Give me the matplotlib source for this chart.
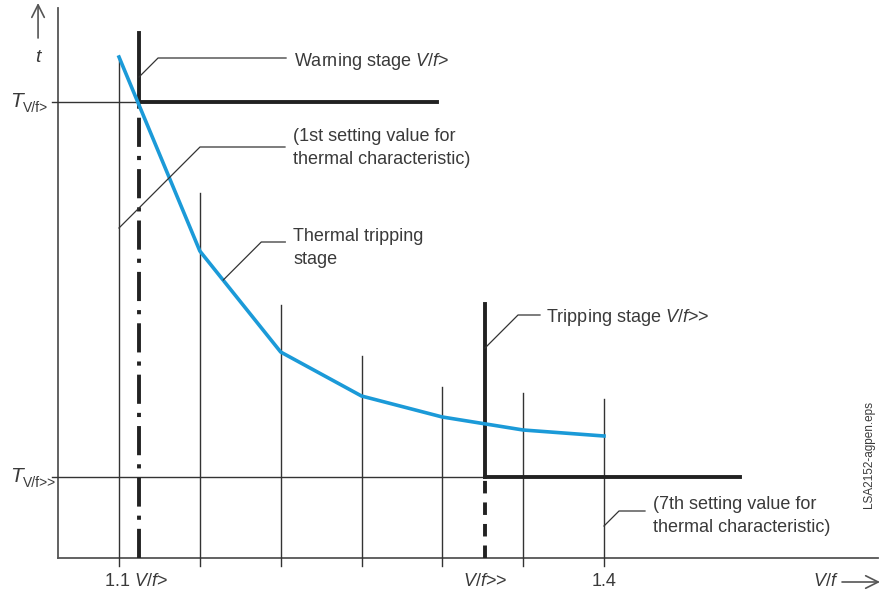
import matplotlib.pyplot as plt

plt.rcParams['font.family'] = ['Liberation Sans', 'DejaVu Sans']
plt.rcParams['mathtext.fontset'] = 'custom'
plt.rcParams['mathtext.rm'] = 'Liberation Sans'
plt.rcParams['mathtext.it'] = 'Liberation Sans:italic'
plt.rcParams['lines.scale_dashes'] = False

# setting values of the thermal characteristic (V/f, t)
vf_set = [1.10, 1.15, 1.20, 1.25, 1.30, 1.35, 1.40]
t_curve = [5.01, 3.07, 2.06, 1.62, 1.41, 1.28, 1.22]
t_marker_top = [5.01, 3.65, 2.53, 2.02, 1.71, 1.65, 1.59]

# stages
vf_warn, t_warn, t_warn_top, vf_warn_end = 1.1124, 4.56, 5.25, 1.297
vf_trip, t_trip, t_trip_top, vf_trip_end = 1.3264, 0.81, 2.54, 1.484

# axis geometry
vf_axis, t_axis_top, vf_axis_end = 1.0623, 5.50, 1.5695

W, H = 889, 596
xlim = (1.02639, 1.57629)
ylim = (-0.38, 5.58)
sx = (xlim[1] - xlim[0]) / W   # data per pixel
sy = (ylim[1] - ylim[0]) / H

fig = plt.figure(figsize=(W / 100, H / 100), dpi=100)
ax = fig.add_axes([0, 0, 1, 1])
ax.set_xlim(*xlim)
ax.set_ylim(*ylim)
ax.axis('off')

txt = '#3a3a3a'
axc = '#555555'
thin = '#333333'
thick = '#222222'
blue = '#1b9ad8'

# axes
ax.plot([vf_axis, vf_axis], [0, t_axis_top], color=axc, lw=1.3)
ax.plot([vf_axis, vf_axis_end], [0, 0], color=axc, lw=1.3)

# reference levels
ax.plot([vf_axis - 6 * sx, vf_warn], [t_warn, t_warn], color=thin, lw=1.0)
ax.plot([vf_axis - 6 * sx, vf_trip], [t_trip, t_trip], color=thin, lw=1.0)

# setting value markers
for v, top in zip(vf_set, t_marker_top):
    ax.plot([v, v], [-8 * sy, top], color=thin, lw=1.0)

# warning stage
ax.plot([vf_warn, vf_warn], [t_warn, t_warn_top], color=thick, lw=2.8)
ax.plot([vf_warn, vf_warn_end], [t_warn, t_warn], color=thick, lw=2.8)
ln, = ax.plot([vf_warn, vf_warn], [0, t_warn], color=thick, lw=2.8)
ln.set_dashes((21, 6.5, 3, 6.5))

# tripping stage
ax.plot([vf_trip, vf_trip], [t_trip, t_trip_top], color=thick, lw=2.8)
ax.plot([vf_trip, vf_trip_end], [t_trip, t_trip], color=thick, lw=2.8)
ln, = ax.plot([vf_trip, vf_trip], [0, t_trip], color=thick, lw=2.8)
ln.set_dashes((9, 6.5))

# thermal characteristic
ax.plot(vf_set, t_curve, color=blue, lw=2.6, solid_joinstyle='round')


def leader(x, y, d, run):
    x1 = x + d * sx
    y1 = y + d * sy
    ax.plot([x, x1, x1 + run * sx], [y, y1, y1], color=thin, lw=0.9)
    return x1 + run * sx, y1


fs = 13
ls = 1.42
x0, y0 = leader(vf_warn, t_warn + 25 * sy, 19, 128)
ax.text(x0 + 8 * sx, y0 - 3 * sy, 'Warning stage $\\mathit{V/f}$>', color=txt,
        fontsize=fs, va='center')

x0, y0 = leader(vf_set[0], t_marker_top[0] - 171 * sy, 81, 85)
ax.text(x0 + 8 * sx, y0 - 1 * sy, '(1st setting value for\nthermal characteristic)',
        color=txt, fontsize=fs, va='center', linespacing=ls)

x0, y0 = leader(1.1645, 2.78, 38, 24)
ax.text(x0 + 8 * sx, y0 - 6 * sy, 'Thermal tripping\nstage', color=txt,
        fontsize=fs, va='center', linespacing=ls)

x0, y0 = leader(vf_trip, 2.10, 33, 22)
ax.text(x0 + 6 * sx, y0 - 2 * sy, 'Tripping stage $\\mathit{V/f}$>>', color=txt,
        fontsize=fs, va='center')

x0, y0 = leader(vf_set[-1], 0.32, 15, 26)
ax.text(x0 + 8 * sx, y0 - 5 * sy, '(7th setting value for\nthermal characteristic)',
        color=txt, fontsize=fs, va='center', linespacing=ls)

# y labels
for tv, sub in [(t_warn, 'V/f>'), (t_trip, 'V/f>>')]:
    ax.text(vf_axis - 48 * sx, tv + 1 * sy, 'T', style='italic', color=txt,
            fontsize=15, va='center')
    ax.text(vf_axis - 35 * sx, tv - 6 * sy, sub, color=txt, fontsize=10,
            va='center')

# y arrow + t
ax.annotate('', xy=(vf_axis - 20 * sx, t_axis_top + 5 * sy),
            xytext=(vf_axis - 20 * sx, t_axis_top - 30 * sy),
            arrowprops=dict(arrowstyle='->,head_length=0.9,head_width=0.45',
                            color=axc, lw=1.2, shrinkA=0, shrinkB=0))
ax.text(vf_axis - 20 * sx, t_axis_top - 49 * sy, 't', style='italic',
        color=txt, fontsize=14, ha='center', va='center')

# x tick labels
xl_y = -24 * sy
ax.text(vf_set[0] + 17 * sx, xl_y, '1.1 $\\mathit{V/f}$>', color=txt, fontsize=fs,
        ha='center', va='center')
ax.text(vf_trip, xl_y, '$\\mathit{V/f}$>>', color=txt, fontsize=fs,
        ha='center', va='center')
ax.text(vf_set[-1], xl_y, '1.4', color=txt, fontsize=fs, ha='center', va='center')
ax.text(vf_axis_end - 52 * sx, xl_y, '$\\mathit{V/f}$', color=txt, fontsize=fs,
        ha='center', va='center')
ax.annotate('', xy=(vf_axis_end + 2 * sx, xl_y), xytext=(vf_axis_end - 36 * sx, xl_y),
            arrowprops=dict(arrowstyle='->,head_length=0.9,head_width=0.45',
                            color=axc, lw=1.2, shrinkA=0, shrinkB=0))

ax.text(xlim[0] + 869 * sx, t_trip + 22 * sy, 'LSA2152-agpen.eps', rotation=90,
        color=txt, fontsize=8.5, ha='center', va='center')

fig.savefig('out.png', dpi=100)
